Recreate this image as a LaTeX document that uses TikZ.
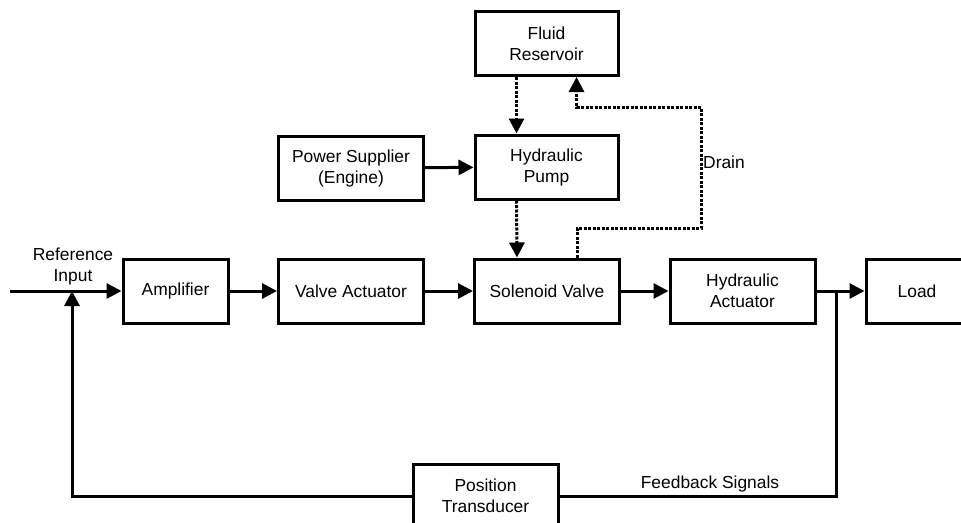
\documentclass[tikz,border=0pt]{standalone}
\usepackage{fontspec}
\setmainfont{Liberation Sans}
\usetikzlibrary{arrows.meta}
\usetikzlibrary{calc}

\begin{document}
\begin{tikzpicture}[x=1pt,y=-1pt,
  block/.style={draw,line width=3pt,minimum width=145pt,minimum height=64pt,
                align=center,inner sep=0pt,font=\fontsize{17.4}{21}\selectfont},
  sig/.style={line width=3pt,-{Triangle[length=15pt,width=15pt]}},
  flow/.style={line width=3pt,dash pattern=on 3pt off 1.5pt,-{Triangle[length=15pt,width=15pt]}},
  lbl/.style={font=\fontsize{17.4}{21}\selectfont,align=center,inner sep=1pt}]
\useasboundingbox (0,0) rectangle (961,522);
\clip (0,0) rectangle (961,522);

% supply side
\node[block,minimum width=143pt] (res)   at (546.5,43.5) {Fluid\\Reservoir};
\node[block,minimum width=143pt] (pump)  at (546.5,167)  {Hydraulic\\Pump};
\node[block] (power) at (351,168) {Power Supplier\\(Engine)};

% forward path
\node[block,minimum width=105pt] (amp) at (175.5,291) {Amplifier};
\node[block] (valact) at (351,291)   {Valve Actuator};
\node[block] (sol)    at (547,291)   {Solenoid Valve};
\node[block] (hydact) at (742.5,291) {Hydraulic\\Actuator};
\node[block,minimum width=102pt] (load) at (917,291) {Load};

% feedback path
\node[block] (trans) at (485.5,496) {Position\\Transducer};

\coordinate (in)  at (10,291);
\coordinate (sum) at (72,291);
\coordinate (tap) at (836,291);

\draw[sig] (in) -- (amp);
\node[lbl,anchor=south] (reflbl) at (73,286) {Reference\\Input};
\draw[sig] (amp) -- (valact);
\draw[sig] (valact) -- (sol);
\draw[sig] (sol) -- (hydact);
\draw[sig] (hydact) -- (load);

\draw[sig] (power) -- (pump);
\draw[flow] ($(res.south)+(-30,0)$) -- ($(pump.north)+(-30,0)$);
\draw[flow] ($(pump.south)+(-30,0)$) -- ($(sol.north)+(-30,0)$);

% drain back to the reservoir
\coordinate (drainlow)  at (701,228);
\coordinate (drainhigh) at (701,107);
\draw[flow] ($(sol.north)+(30,0)$) |- (drainlow) -- (drainhigh) -| ($(res.south)+(30,0)$);
\node[lbl,anchor=west] (drainlbl) at (702,162) {Drain};

\draw[line width=3pt] (tap) |- (trans);
\draw[sig] (trans) -| (sum);
\node[lbl,anchor=base] (fblbl) at (710,488) {Feedback Signals};
\end{tikzpicture}
\end{document}
